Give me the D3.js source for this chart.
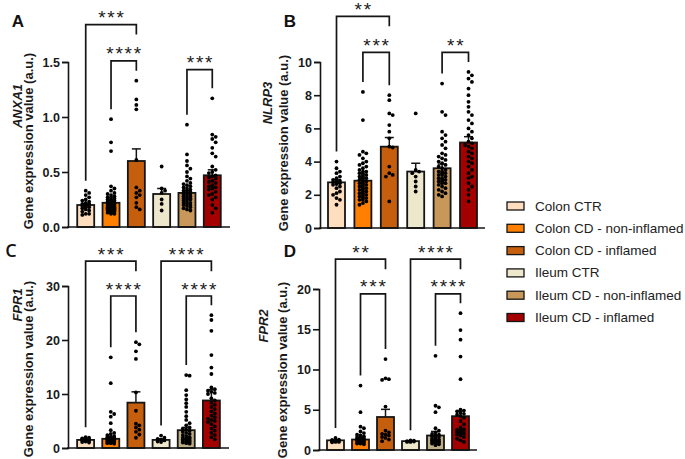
<!DOCTYPE html>
<html><head><meta charset="utf-8">
<script src="https://cdn.jsdelivr.net/npm/d3@7"></script>
<style>body{margin:0;background:#fff;} svg{display:block;font-family:"Liberation Sans",Arial,sans-serif;}</style>
</head><body><svg id="c" width="685" height="459"></svg>
<script>
// ---------- DATA ----------
const groups = ["Colon CTR","Colon CD - non-inflamed","Colon CD - inflamed","Ileum CTR","Ileum CD - non-inflamed","Ileum CD - inflamed"];
const groupColors = ["#FFDDBF","#FF8000","#C55F0D","#EDE8CB","#C8985A","#A50000"];
const groupColorsFPR = ["#FFDDBF","#FF8000","#C55F0D","#EDE8CB","#BDAE86","#A50000"];

const anxa1Ticks = [0,0.5,1.0,1.5];
const anxa1Mean = [0.20,0.22,0.60,0.30,0.31,0.47];
const anxa1Sem  = [0.01,0.02,0.11,0.05,0.02,0.05];
const anxa1Points = [
 [0.33,0.31,0.29,0.27,0.25,0.24,0.23,0.22,0.21,0.21,0.2,0.2,0.19,0.19,0.18,0.18,0.17,0.16,0.15,0.14,0.12,0.12,0.11],
 [0.98,0.77,0.69,0.37,0.35,0.33,0.31,0.3,0.29,0.28,0.27,0.27,0.26,0.25,0.25,0.24,0.24,0.23,0.23,0.22,0.22,0.22,0.21,0.21,0.2,0.2,0.2,0.19,0.19,0.19,0.18,0.18,0.18,0.17,0.17,0.17,0.16,0.16,0.16,0.15,0.15,0.15,0.14,0.14,0.13,0.13,0.12,0.12],
 [1.33,1.16,1.11,1.07,0.61,0.36,0.33,0.31,0.29,0.27,0.22,0.18,0.16],
 [0.55,0.35,0.33,0.31,0.25,0.21,0.15],
 [0.93,0.66,0.6,0.56,0.53,0.5,0.46,0.44,0.42,0.4,0.39,0.38,0.37,0.36,0.35,0.34,0.33,0.33,0.32,0.31,0.3,0.3,0.29,0.28,0.28,0.27,0.26,0.26,0.25,0.25,0.24,0.23,0.22,0.22,0.21,0.2,0.2,0.19,0.18,0.17,0.16,0.15],
 [1.17,0.84,0.82,0.8,0.77,0.72,0.67,0.64,0.55,0.52,0.5,0.49,0.47,0.46,0.45,0.44,0.42,0.41,0.4,0.38,0.37,0.36,0.35,0.34,0.32,0.3,0.29,0.27,0.25,0.2,0.17,0.13]
];
const anxa1Brackets = [{from:0,to:2,level:1.84,label:"***"},{from:1,to:2,level:1.51,label:"****"},{from:4,to:5,level:1.43,label:"***"}];

const nlrp3Ticks = [0,2,4,6,8,10];
const nlrp3Mean = [2.75,2.85,4.9,3.4,3.6,5.15];
const nlrp3Sem  = [0.15,0.15,0.55,0.5,0.25,0.35];
const nlrp3Points = [
 [4.0,3.6,3.4,3.3,3.1,3.0,2.9,2.85,2.8,2.75,2.7,2.65,2.6,2.5,2.4,2.2,2.1,2.0,1.8,1.7,1.4],
 [8.2,6.5,4.6,4.5,4.4,4.2,4.0,3.9,3.8,3.7,3.6,3.5,3.4,3.4,3.3,3.3,3.2,3.2,3.1,3.1,3.0,3.0,2.9,2.9,2.8,2.8,2.7,2.7,2.6,2.6,2.5,2.5,2.4,2.4,2.3,2.3,2.2,2.2,2.1,2.1,2.0,2.0,1.9,1.9,1.8,1.8,1.7,1.7,1.6,1.5,1.4],
 [8.0,7.7,6.9,6.8,6.2,5.8,5.4,4.9,4.85,3.7,3.3,3.2,3.1,1.6],
 [6.9,3.5,3.4,3.3,3.1,2.8,2.5,2.2],
 [8.7,7.0,6.8,5.8,5.6,5.4,5.2,5.0,4.8,4.5,4.4,4.3,4.2,4.1,4.0,3.9,3.8,3.7,3.6,3.5,3.4,3.4,3.3,3.3,3.2,3.2,3.1,3.0,3.0,2.9,2.9,2.8,2.8,2.7,2.7,2.6,2.5,2.4,2.3,2.2,2.1,2.0,1.9],
 [9.4,9.2,9.0,8.8,8.4,8.0,7.6,7.3,7.0,6.8,6.5,6.3,6.0,5.8,5.6,5.4,5.2,5.1,5.0,4.9,4.8,4.6,4.5,4.3,4.2,4.0,3.9,3.7,3.5,3.3,3.1,3.0,2.7,2.5,2.3,2.0,1.6]
];
const nlrp3Brackets = [{from:0,to:2,level:12.75,label:"**"},{from:1,to:2,level:10.58,label:"***"},{from:4,to:5,level:10.58,label:"**"}];

const fpr1Ticks = [0,10,20,30];
const fpr1Mean = [1.5,1.7,8.4,1.5,3.3,8.8];
const fpr1Sem  = [0.1,0.35,2.0,0.2,0.5,2.0];
const fpr1Points = [
 [2.0,1.9,1.8,1.7,1.6,1.6,1.5,1.5,1.4,1.4,1.3,1.2,1.1,1.0],
 [16.8,12.0,6.7,6.3,5.8,4.6,3.3,2.8,2.6,2.4,2.2,2.1,2.0,1.9,1.8,1.7,1.6,1.5,1.5,1.4,1.4,1.3,1.3,1.2,1.2,1.1,1.1,1.0,1.0,0.9,0.9,0.8],
 [19.6,19.2,17.9,16.5,10.3,6.9,4.5,4.2,3.8,3.4,3.0,2.5,1.9],
 [2.3,1.9,1.7,1.5,1.4,1.2,1.1],
 [13.5,13.4,10.7,9.8,9.0,8.3,7.6,6.7,5.9,5.2,4.6,4.2,3.8,3.6,3.4,3.2,3.0,2.8,2.6,2.4,2.2,2.0,1.9,1.8,1.7,1.6,1.5,1.4,1.3,1.2,1.1,1.0,0.9,0.8],
 [24.6,23.7,21.7,17.2,14.9,13.7,11.2,10.9,10.6,10.4,10.2,10.0,9.2,8.8,8.4,8.0,7.6,7.2,6.8,6.4,6.0,5.7,5.4,5.2,5.0,4.8,4.4,4.0,3.6,3.2,2.8,2.4,2.0,1.6]
];
const fpr1Brackets = [{from:0,to:2,level:34.6,label:"***"},{from:1,to:2,level:28.15,label:"****"},{from:3,to:5,level:34.6,label:"****"},{from:4,to:5,level:28.15,label:"****"}];

const fpr2Ticks = [0,5,10,15,20];
const fpr2Mean = [1.2,1.3,4.1,1.1,1.8,4.2];
const fpr2Sem  = [0.05,0.2,0.95,0.05,0.5,0.65];
const fpr2Points = [
 [1.5,1.3,1.25,1.2,1.15,1.1,1.1,1.0,1.0,0.95],
 [8.0,4.7,2.9,2.7,2.3,2.1,1.9,1.8,1.7,1.6,1.5,1.5,1.4,1.4,1.3,1.3,1.2,1.2,1.1,1.1,1.0,1.0,0.9,0.9,0.8,0.8,0.7],
 [11.3,8.9,8.8,8.7,5.4,2.4,2.2,2.0,1.9,1.8,1.6,1.5,1.3,1.1],
 [1.2,1.15,1.1,1.1,1.05,1.0,1.0],
 [11.7,5.5,5.3,4.7,2.7,2.4,2.2,2.0,1.9,1.8,1.7,1.6,1.5,1.4,1.3,1.3,1.2,1.2,1.1,1.1,1.0,1.0,0.9,0.9,0.8,0.8,0.7,0.6],
 [17.0,14.9,13.7,11.6,8.8,5.0,4.9,4.8,4.6,4.5,4.4,4.2,4.0,3.6,3.2,2.8,2.6,2.5,2.4,2.3,2.2,2.1,2.0,1.9,1.8,1.6,1.4,1.2,1.0]
];
const fpr2Brackets = [{from:0,to:2,level:23.7,label:"**"},{from:1,to:2,level:19.4,label:"***"},{from:3,to:5,level:23.7,label:"****"},{from:4,to:5,level:19.4,label:"****"}];

// ---------- LAYOUT ----------
const panels = [
 {letter:"A", gene:"ANXA1", mean:anxa1Mean, sem:anxa1Sem, pts:anxa1Points, ticks:anxa1Ticks, fmt:".1f", br:anxa1Brackets, colors:groupColors,
  y0:227, y1:62, x0:68, x1:230, pad:0.7, letterXY:[18,27], geneXY:[17,106], titleXY:[28,141], letterFont:null},
 {letter:"B", gene:"NLRP3", mean:nlrp3Mean, sem:nlrp3Sem, pts:nlrp3Points, ticks:nlrp3Ticks, fmt:"d", br:nlrp3Brackets, colors:groupColors,
  y0:228, y1:62, x0:320, x1:485, pad:0.625, letterXY:[290,27], geneXY:[267,103], titleXY:[283,143], letterFont:null},
 {letter:"C", gene:"FPR1", mean:fpr1Mean, sem:fpr1Sem, pts:fpr1Points, ticks:fpr1Ticks, fmt:"d", br:fpr1Brackets, colors:groupColorsFPR,
  y0:448, y1:286, x0:68, x1:229, pad:0.7, letterXY:[11,257], geneXY:[17,305], titleXY:[28,369], letterFont:"Open Sans"},
 {letter:"D", gene:"FPR2", mean:fpr2Mean, sem:fpr2Sem, pts:fpr2Points, ticks:fpr2Ticks, fmt:"d", br:fpr2Brackets, colors:groupColorsFPR,
  y0:450, y1:289, x0:319, x1:477, pad:0.66, letterXY:[290,257], geneXY:[263,326], titleXY:[282,370], letterFont:null}
];

const svg = d3.select("#c");
const BAR_W = 17, DOT_R = 1.9;

function swarm(vals, y, cx, r, maxOff){
  const items = vals.map(v=>({v, py:y(v)})).sort((a,b)=>a.py-b.py);
  const placed = [];
  const step = r*1.8;
  items.forEach(it=>{
    let best=0, bestD=-1;
    for(let k=0;k<20;k++){
      const off = k===0?0:(k%2?1:-1)*Math.ceil(k/2)*step;
      if(Math.abs(off)>maxOff) break;
      let md=Infinity;
      placed.forEach(q=>{const d=Math.hypot(q.px-(cx+off), q.py-it.py); if(d<md) md=d;});
      if(md>=2*r*0.9){best=off;bestD=Infinity;break;}
      if(md>bestD){bestD=md;best=off;}
    }
    it.px = cx+best; placed.push(it);
  });
  return placed;
}

panels.forEach(p=>{
  const g = svg.append("g");
  const y = d3.scaleLinear().domain([0, d3.max(p.ticks)]).range([p.y0, p.y1]);
  const x = d3.scalePoint().domain(d3.range(groups.length)).range([p.x0, p.x1]).padding(p.pad);

  g.selectAll("rect.bar").data(p.mean).join("rect")
    .attr("x",(d,i)=>x(i)-BAR_W/2).attr("width",BAR_W)
    .attr("y",d=>y(d)).attr("height",d=>y(0)-y(d))
    .attr("fill",(d,i)=>p.colors[i]).attr("stroke","#151515").attr("stroke-width",1.8);

  p.mean.forEach((m,i)=>{
    const cx=x(i), yt=y(m+p.sem[i]);
    g.append("line").attr("x1",cx).attr("x2",cx).attr("y1",y(m)).attr("y2",yt).attr("stroke","#151515").attr("stroke-width",1.5);
    g.append("line").attr("x1",cx-4.5).attr("x2",cx+4.5).attr("y1",yt).attr("y2",yt).attr("stroke","#151515").attr("stroke-width",1.5);
  });

  p.pts.forEach((vals,i)=>{
    const placed = swarm(vals, y, x(i), DOT_R, 6.6);
    g.selectAll(null).data(placed).join("circle")
      .attr("cx",d=>d.px).attr("cy",d=>d.py).attr("r",DOT_R).attr("fill","#000");
  });

  const ax = d3.axisLeft(y).tickValues(p.ticks).tickFormat(d3.format(p.fmt)).tickSize(6).tickPadding(2);
  const ag = g.append("g").attr("transform",`translate(${p.x0},0)`).call(ax);
  ag.select(".domain").attr("stroke","#151515").attr("stroke-width",1.6);
  ag.selectAll(".tick line").attr("stroke","#151515").attr("stroke-width",1.6);
  ag.selectAll(".tick text").attr("fill","#1a1a1a").style("font-size","12.5px").style("font-weight","bold").style("font-family","'Liberation Sans',Arial,sans-serif");
  g.append("line").attr("x1",p.x0-0.8).attr("x2",p.x1).attr("y1",y(0)).attr("y2",y(0)).attr("stroke","#151515").attr("stroke-width",1.6);

  p.br.forEach(b=>{
    const top = y(b.level);
    const legEnd = idx=>{
      const inner = p.br.some(o=>o!==b && o.level<b.level && (o.from===idx||o.to===idx));
      return inner ? top+10 : y(d3.max(p.pts[idx]))-10;
    };
    const xa=x(b.from), xb=x(b.to);
    g.append("path").attr("d",`M${xa},${legEnd(b.from)}V${top}H${xb}V${legEnd(b.to)}`)
      .attr("fill","none").attr("stroke","#151515").attr("stroke-width",1.7);
    const ls=1.8, fs=19;
    g.append("text").attr("x",(xa+xb)/2+ls/2).attr("y",top-11+0.58*fs-0.5)
      .attr("text-anchor","middle").style("font-size",fs+"px").style("letter-spacing",ls+"px")
      .attr("fill","#1a1a1a").text(b.label);
  });

  g.append("text").attr("transform",`translate(${p.geneXY[0]},${p.geneXY[1]}) rotate(-90)`)
    .attr("text-anchor","middle").attr("dominant-baseline","central")
    .style("font-size","13px").style("font-style","italic").style("font-weight","bold").attr("fill","#1a1a1a").text(p.gene);
  g.append("text").attr("transform",`translate(${p.titleXY[0]},${p.titleXY[1]}) rotate(-90)`)
    .attr("text-anchor","middle").attr("dominant-baseline","central")
    .style("font-size","13px").style("font-weight","bold").attr("fill","#1a1a1a").text("Gene expression value (a.u.)");
  const lt = g.append("text").attr("x",p.letterXY[0]).attr("y",p.letterXY[1]).attr("text-anchor","middle")
    .style("font-size","17px").style("font-weight","bold").attr("fill","#111").text(p.letter);
  if(p.letterFont) lt.style("font-family",p.letterFont).style("font-weight","600").style("font-size","18px");
});

const lg = svg.append("g");
groups.forEach((name,i)=>{
  const cy = 206 + i*22.3;
  lg.append("rect").attr("x",507).attr("y",cy-4).attr("width",17).attr("height",8)
    .attr("fill",groupColors[i]).attr("stroke","#151515").attr("stroke-width",1.3);
  lg.append("text").attr("x",535).attr("y",cy).attr("dominant-baseline","central")
    .style("font-size","13.5px").attr("fill","#222").text(name);
});
</script></body></html>
